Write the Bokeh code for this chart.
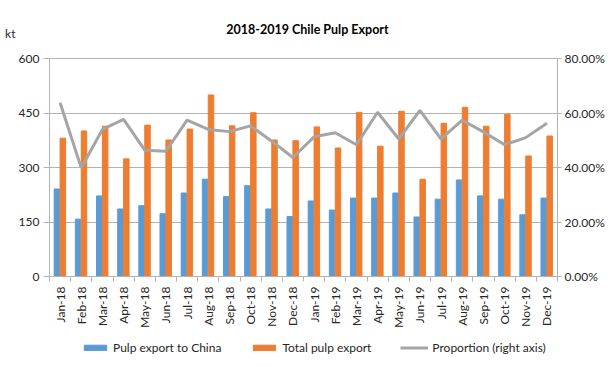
import math
from bokeh.plotting import figure
from bokeh.layouts import column
from bokeh.models import (Range1d, LinearAxis, FixedTicker, NumeralTickFormatter,
                          Legend, LegendItem, Label, ColumnDataSource)
from bokeh.transform import dodge
from bokeh.embed import file_html
from bokeh.resources import INLINE

months = ["Jan-18", "Feb-18", "Mar-18", "Apr-18", "May-18", "Jun-18",
          "Jul-18", "Aug-18", "Sep-18", "Oct-18", "Nov-18", "Dec-18",
          "Jan-19", "Feb-19", "Mar-19", "Apr-19", "May-19", "Jun-19",
          "Jul-19", "Aug-19", "Sep-19", "Oct-19", "Nov-19", "Dec-19"]
china = [241, 158, 222, 186, 195, 173, 230, 268, 220, 250, 186, 165,
         208, 183, 216, 216, 230, 164, 213, 266, 222, 213, 170, 216]
total = [381, 401, 414, 324, 417, 376, 406, 500, 415, 451, 376, 374,
         412, 354, 452, 359, 455, 268, 422, 466, 414, 447, 332, 387]
proportion = [0.638, 0.399, 0.540, 0.577, 0.464, 0.460, 0.574, 0.540,
              0.532, 0.553, 0.497, 0.437, 0.513, 0.528, 0.484, 0.603,
              0.505, 0.610, 0.505, 0.574, 0.531, 0.484, 0.510, 0.563]
series_names = ["Pulp export to China", "Total pulp export",
                "Proportion (right axis)"]
left_ticks = [0, 150, 300, 450, 600]
right_ticks = [0, 0.2, 0.4, 0.6, 0.8]

FONT = "Lato"
GRID = "#b3b3b3"
TXT = "#262626"
BLUE, ORANGE, GRAY = "#5B9BD5", "#ED7D31", "#A5A5A5"

# frame reaches the top of the canvas; 600 kt sits 218 px above 0
LEFT_MAX, RIGHT_MAX = 600, 0.8
FRAME_TOP = LEFT_MAX * 276.7 / 218.4
PCT_TOP = RIGHT_MAX * FRAME_TOP / LEFT_MAX
KT_POS = 670

xs = [i + 0.5 for i in range(len(months))]
src = ColumnDataSource(dict(x=xs, china=china, total=total, prop=proportion))

p = figure(width=616, height=330, output_backend="svg", toolbar_location=None,
           x_range=Range1d(0, len(months)), y_range=Range1d(0, FRAME_TOP),
           min_border_left=49, min_border_right=59, min_border_top=0,
           min_border_bottom=53, outline_line_color=None)
p.extra_y_ranges = {"pct": Range1d(0, PCT_TOP)}

p.vbar(x=dodge("x", -0.15, range=p.x_range), top="china", width=0.26,
       source=src, color=BLUE)
p.vbar(x=dodge("x", 0.13, range=p.x_range), top="total", width=0.26,
       source=src, color=ORANGE)
p.line(x="x", y="prop", source=src, y_range_name="pct",
       line_color=GRAY, line_width=3)

# x axis
xa = p.xaxis[0]
xa.ticker = FixedTicker(ticks=xs, minor_ticks=list(range(len(months) + 1)))
xa.major_label_overrides = {x: m for x, m in zip(xs, months)}
xa.major_label_orientation = math.pi / 2
xa.major_tick_line_color = None
xa.minor_tick_line_color = GRID
xa.minor_tick_out = 5
xa.minor_tick_in = 0
xa.axis_line_color = GRID
xa.major_label_standoff = 4
xa.major_label_text_font = FONT
xa.major_label_text_font_size = "12px"
xa.major_label_text_color = TXT

# left axis
ya = p.yaxis[0]
ya.bounds = (0, LEFT_MAX)
ya.ticker = FixedTicker(ticks=left_ticks)
ya.axis_line_color = GRID
ya.major_tick_line_color = GRID
ya.major_tick_out = 6
ya.major_tick_in = 0
ya.minor_tick_line_color = None
ya.major_label_standoff = 4
ya.major_label_text_font = FONT
ya.major_label_text_font_size = "12px"
ya.major_label_text_color = TXT

# unit label "kt": a one-tick outer axis without line or tick mark
ka = LinearAxis(bounds=(KT_POS - 10, KT_POS + 10),
                ticker=FixedTicker(ticks=[KT_POS], minor_ticks=[]),
                major_label_overrides={KT_POS: "kt"},
                axis_line_color=None, major_tick_line_color=None,
                minor_tick_line_color=None, major_tick_out=0, major_tick_in=0,
                minor_tick_out=0, minor_tick_in=0, major_label_standoff=0,
                major_label_text_font=FONT, major_label_text_font_size="12px",
                major_label_text_color=TXT)
p.add_layout(ka, "left")

# right axis
ra = LinearAxis(y_range_name="pct", ticker=FixedTicker(ticks=right_ticks),
                formatter=NumeralTickFormatter(format="0.00%"),
                bounds=(0, RIGHT_MAX))
ra.axis_line_color = GRID
ra.major_tick_line_color = GRID
ra.major_tick_out = 4
ra.major_tick_in = 0
ra.minor_tick_line_color = None
ra.major_label_standoff = 3
ra.major_label_text_font = FONT
ra.major_label_text_font_size = "12px"
ra.major_label_text_color = TXT
p.add_layout(ra, "right")

p.xgrid.visible = False
p.ygrid.ticker = FixedTicker(ticks=left_ticks)
p.ygrid.grid_line_color = GRID

title = Label(x=258, y=247, x_units="screen", y_units="screen",
              text="2018-2019 Chile Pulp Export", text_align="center",
              text_baseline="middle", text_font=FONT, text_font_size="12.5px",
              text_font_style="bold", text_color="#000000")
p.add_layout(title)

# legend strip below the chart (its frame is aligned with the chart frame);
# its renderers reuse the data but lie far outside the strip's y range
lp = figure(width=616, height=37, output_backend="svg", toolbar_location=None,
            x_range=Range1d(0, len(months)), y_range=Range1d(1000, 1001),
            x_axis_type=None, y_axis_type=None, min_border=0,
            outline_line_color=None)
lp.xgrid.visible = False
lp.ygrid.visible = False
r1 = lp.vbar(x="x", top="china", width=0.26, source=src, color=BLUE)
r2 = lp.vbar(x="x", top="total", width=0.26, source=src, color=ORANGE)
r3 = lp.line(x="x", y="prop", source=src, line_color=GRAY, line_width=3)
legend = Legend(items=[LegendItem(label=n, renderers=[r])
                       for n, r in zip(series_names, [r1, r2, r3])],
                orientation="horizontal", location=(32, 12),
                glyph_width=28, glyph_height=7, label_standoff=4, spacing=29,
                padding=0, margin=0, border_line_color=None,
                background_fill_alpha=0, label_text_font=FONT,
                label_text_font_size="12px", label_text_color=TXT)
lp.add_layout(legend)

open("out.html", "w").write(file_html(column(p, lp, spacing=0), INLINE))
